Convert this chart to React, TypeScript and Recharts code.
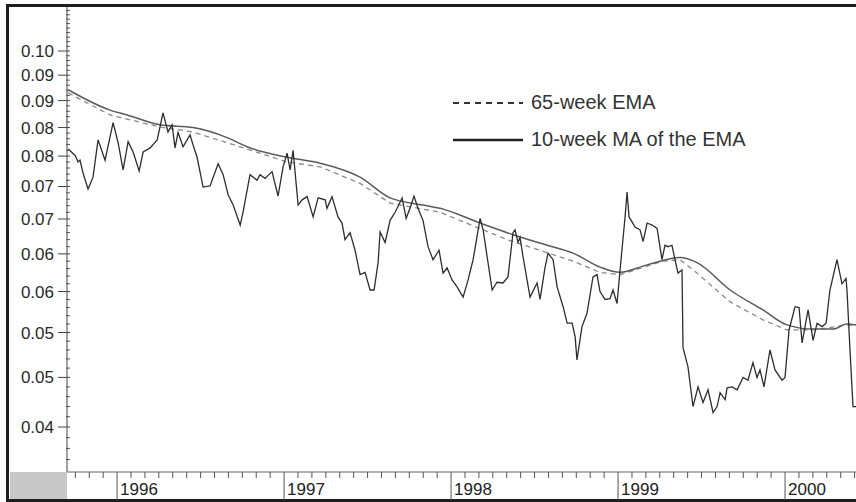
import { LineChart, Line, XAxis, YAxis } from "recharts";

// weekly close (decimal year / value)
const PRICE_T = [
  1995.707, 1995.749, 1995.766, 1995.778, 1995.796, 1995.826, 1995.856, 1995.886, 1995.928, 1995.976,
  1996.006, 1996.036, 1996.066, 1996.096, 1996.132, 1996.156, 1996.198, 1996.24, 1996.275, 1996.305,
  1996.329, 1996.347, 1996.365, 1996.395, 1996.437, 1996.455, 1996.479, 1996.515, 1996.557, 1996.605,
  1996.635, 1996.665, 1996.695, 1996.737, 1996.754, 1996.796, 1996.838, 1996.856, 1996.886, 1996.928,
  1996.964, 1996.994, 1997.018, 1997.036, 1997.054, 1997.084, 1997.108, 1997.138, 1997.174, 1997.204,
  1997.246, 1997.257, 1997.287, 1997.323, 1997.347, 1997.365, 1997.395, 1997.425, 1997.455, 1997.485,
  1997.515, 1997.539, 1997.563, 1997.575, 1997.605, 1997.635, 1997.665, 1997.707, 1997.731, 1997.754,
  1997.778, 1997.802, 1997.832, 1997.862, 1997.892, 1997.928, 1997.952, 1997.976, 1998.006, 1998.036,
  1998.072, 1998.102, 1998.132, 1998.174, 1998.192, 1998.216, 1998.246, 1998.275, 1998.311, 1998.341,
  1998.371, 1998.383, 1998.401, 1998.413, 1998.431, 1998.473, 1998.515, 1998.533, 1998.563, 1998.581,
  1998.611, 1998.635, 1998.671, 1998.695, 1998.725, 1998.743, 1998.754, 1998.784, 1998.814, 1998.85,
  1998.874, 1998.892, 1998.922, 1998.952, 1998.97, 1998.994, 1999.012, 1999.042, 1999.054, 1999.066,
  1999.102, 1999.132, 1999.15, 1999.174, 1999.204, 1999.234, 1999.263, 1999.281, 1999.299, 1999.323,
  1999.341, 1999.359, 1999.383, 1999.389, 1999.419, 1999.449, 1999.479, 1999.509, 1999.539, 1999.569,
  1999.593, 1999.611, 1999.641, 1999.653, 1999.683, 1999.713, 1999.749, 1999.778, 1999.808, 1999.832,
  1999.85, 1999.874, 1999.91, 1999.94, 1999.982, 2000.0, 2000.024, 2000.06, 2000.084, 2000.102,
  2000.138, 2000.168, 2000.192, 2000.222, 2000.246, 2000.269, 2000.311, 2000.341, 2000.365, 2000.371,
  2000.389, 2000.407, 2000.425,
];
const PRICE = [
  0.0812, 0.0801, 0.079, 0.0793, 0.0772, 0.0746, 0.0765, 0.0828, 0.0793, 0.0859,
  0.0823, 0.0777, 0.0825, 0.0807, 0.0775, 0.0807, 0.0814, 0.0828, 0.0877, 0.0842,
  0.0855, 0.0814, 0.0841, 0.0816, 0.0837, 0.0819, 0.0798, 0.0749, 0.0751, 0.0787,
  0.0769, 0.0737, 0.0721, 0.0691, 0.071, 0.0769, 0.076, 0.0769, 0.0763, 0.0774,
  0.0735, 0.0782, 0.0805, 0.0777, 0.081, 0.0721, 0.0729, 0.0734, 0.0703, 0.0732,
  0.0729, 0.0716, 0.0734, 0.0703, 0.0694, 0.067, 0.068, 0.0655, 0.0622, 0.0625,
  0.0602, 0.0602, 0.0638, 0.0681, 0.0666, 0.0698, 0.071, 0.0732, 0.0701, 0.0716,
  0.0735, 0.0716, 0.0698, 0.066, 0.0642, 0.0655, 0.0624, 0.0631, 0.0615, 0.0606,
  0.0593, 0.0615, 0.0642, 0.0701, 0.0684, 0.0646, 0.0602, 0.0612, 0.0611, 0.0619,
  0.068, 0.0684, 0.0666, 0.0673, 0.0646, 0.0593, 0.0611, 0.059, 0.0632, 0.0651,
  0.0642, 0.0606, 0.0581, 0.0561, 0.0561, 0.0545, 0.0519, 0.0557, 0.0573, 0.0619,
  0.0622, 0.06, 0.059, 0.0591, 0.0602, 0.0585, 0.0628, 0.0703, 0.0741, 0.0703,
  0.0688, 0.0684, 0.0667, 0.0694, 0.0691, 0.0686, 0.0642, 0.0662, 0.066, 0.0662,
  0.0642, 0.0624, 0.0628, 0.0533, 0.0511, 0.047, 0.049, 0.0474, 0.0487, 0.0464,
  0.047, 0.0484, 0.0477, 0.0489, 0.049, 0.0487, 0.05, 0.0497, 0.0516, 0.05,
  0.0508, 0.049, 0.053, 0.0508, 0.0497, 0.05, 0.0553, 0.0581, 0.058, 0.0538,
  0.0577, 0.0541, 0.0561, 0.0557, 0.0561, 0.0602, 0.0642, 0.061, 0.0617, 0.0602,
  0.053, 0.047, 0.047,
];

// 65-week EMA (dashed)
const EMA_T = [
  1995.707, 1995.958, 1996.257, 1996.455, 1996.659, 1997.018, 1997.216, 1997.455, 1997.635, 1997.934,
  1998.335, 1998.731, 1998.892, 1999.012, 1999.269, 1999.371, 1999.473, 1999.671, 1999.868, 2000.012,
  2000.168, 2000.371, 2000.425,
];
const EMA = [
  0.0915, 0.0873, 0.0851, 0.0842, 0.0823, 0.079, 0.0782, 0.0755, 0.0724, 0.071,
  0.067, 0.064, 0.0625, 0.0622, 0.064, 0.0642, 0.0624, 0.0587, 0.0565, 0.0553,
  0.0553, 0.0559, 0.0558,
];

// 10-week MA of the EMA (solid)
const MA_T = [
  1995.707, 1995.958, 1996.06, 1996.257, 1996.455, 1996.659, 1996.778, 1997.018, 1997.216, 1997.455,
  1997.635, 1997.832, 1997.934, 1998.174, 1998.371, 1998.575, 1998.731, 1998.892, 1999.012, 1999.174,
  1999.371, 1999.473, 1999.671, 1999.868, 2000.012, 2000.168, 2000.287, 2000.371, 2000.425,
];
const MA = [
  0.0921, 0.0882, 0.0873, 0.0855, 0.085, 0.0832, 0.0816, 0.0798, 0.0788, 0.0765,
  0.0732, 0.0721, 0.0716, 0.0694, 0.0677, 0.0662, 0.0651, 0.0632, 0.0625, 0.0635,
  0.0645, 0.0638, 0.0602, 0.0577, 0.0559, 0.0554, 0.0554, 0.056, 0.0559,
];

const YEARS = [1996, 1997, 1998, 1999, 2000];
const Y_TICKS = [0.045, 0.05, 0.055, 0.06, 0.065, 0.07, 0.075, 0.08, 0.085, 0.09, 0.095, 0.1];
const X_DOMAIN: [number, number] = [1995.7, 2000.425];
const Y_DOMAIN: [number, number] = [0.0409, 0.1098];

const priceData = PRICE_T.map((t, i) => ({ t, v: PRICE[i] }));
const emaData = EMA_T.map((t, i) => ({ t, v: EMA[i] }));
const maData = MA_T.map((t, i) => ({ t, v: MA[i] }));

const monthTicks: number[] = [];
for (let y = YEARS[0] - 1; y <= YEARS[YEARS.length - 1]; y++) {
  for (let m = 0; m < 12; m++) {
    const t = y + m / 12;
    if (t >= X_DOMAIN[0] && t <= X_DOMAIN[1]) monthTicks.push(t);
  }
}
// every 0.001 gets a small mark, labelled ones come from Y_TICKS
const valueTicks: number[] = [];
for (let k = 42; k <= 109; k++) valueTicks.push(k / 1000);

const FONT = "'Liberation Sans', Arial, sans-serif";

// the source chart truncates its labels to two decimals
const fmtY = (v: number) => (Math.floor(v * 100 + 1e-9) / 100).toFixed(2);
const isMajor = (v: number) => Y_TICKS.some((t) => Math.abs(t - v) < 1e-7);

function TimeTick(props: any) {
  const { x, y, payload } = props;
  const v = payload.value as number;
  const yr = Math.round(v);
  if (Math.abs(v - yr) < 1e-6) {
    return (
      <g>
        <line x1={x} x2={x} y1={y} y2={y + 28} stroke="#555" />
        <text x={x + 3} y={y + 23} fontSize={17} fill="#222" fontFamily={FONT}>
          {yr}
        </text>
      </g>
    );
  }
  return <line x1={x} x2={x} y1={y} y2={y + 6} stroke="#555" />;
}

function ValueTick(props: any) {
  const { x, y, payload } = props;
  const v = payload.value as number;
  if (isMajor(v)) {
    return (
      <g>
        <line x1={x - 9} x2={x + 3} y1={y} y2={y} stroke="#444" />
        <text x={x - 13} y={y} dy={6} textAnchor="end" fontSize={17} fill="#2a2a2a" fontFamily={FONT}>
          {fmtY(v)}
        </text>
      </g>
    );
  }
  return <line x1={x - 1} x2={x + 3} y1={y} y2={y} stroke="#555" />;
}

export default function App() {
  return (
    <div style={{ position: "absolute", left: 0, top: 0, width: 856, height: 502, background: "#fff", fontFamily: FONT }}>
      <div
        style={{
          position: "absolute",
          left: 6,
          top: 4,
          width: 856,
          height: 492,
          border: "3px solid #1e1e1e",
          borderRight: "none",
        }}
      />
      <div style={{ position: "absolute", left: 10, top: 472, width: 57, height: 27, background: "#c8c8c8" }} />
      <div style={{ position: "absolute", left: 0, top: 0 }}>
        <LineChart width={856} height={502} margin={{ top: 7, right: 0, left: 10, bottom: 2 }}>
          <YAxis
            type="number"
            scale="log"
            domain={Y_DOMAIN}
            allowDataOverflow
            ticks={valueTicks}
            interval={0}
            tick={<ValueTick />}
            tickLine={false}
            tickSize={0}
            tickMargin={0}
            axisLine={{ stroke: "#444" }}
            width={57}
          />
          <XAxis
            dataKey="t"
            type="number"
            domain={X_DOMAIN}
            allowDataOverflow
            ticks={monthTicks}
            interval={0}
            tick={<TimeTick />}
            tickLine={false}
            tickSize={0}
            tickMargin={0}
            axisLine={{ stroke: "#666" }}
            height={28}
          />
          <Line data={emaData} dataKey="v" type="linear" stroke="#8a8a8a" strokeWidth={1.3} strokeDasharray="5 4" dot={false} isAnimationActive={false} />
          <Line data={maData} dataKey="v" type="monotone" stroke="#5a5a5a" strokeWidth={1.5} dot={false} isAnimationActive={false} />
          <Line data={priceData} dataKey="v" type="linear" stroke="#2e2e2e" strokeWidth={1.3} dot={false} isAnimationActive={false} />
        </LineChart>
      </div>
      <div style={{ position: "absolute", left: 453, top: 84, color: "#333", fontSize: 20, lineHeight: "37px" }}>
        <div style={{ display: "flex", alignItems: "center" }}>
          <svg width={70} height={4} style={{ marginRight: 8 }}>
            <line x1={0} x2={70} y1={2} y2={2} stroke="#333" strokeWidth={2} strokeDasharray="6 5" />
          </svg>
          <span>65-week EMA</span>
        </div>
        <div style={{ display: "flex", alignItems: "center" }}>
          <svg width={70} height={4} style={{ marginRight: 8 }}>
            <line x1={0} x2={70} y1={2} y2={2} stroke="#222" strokeWidth={2.5} />
          </svg>
          <span>10-week MA of the EMA</span>
        </div>
      </div>
    </div>
  );
}
